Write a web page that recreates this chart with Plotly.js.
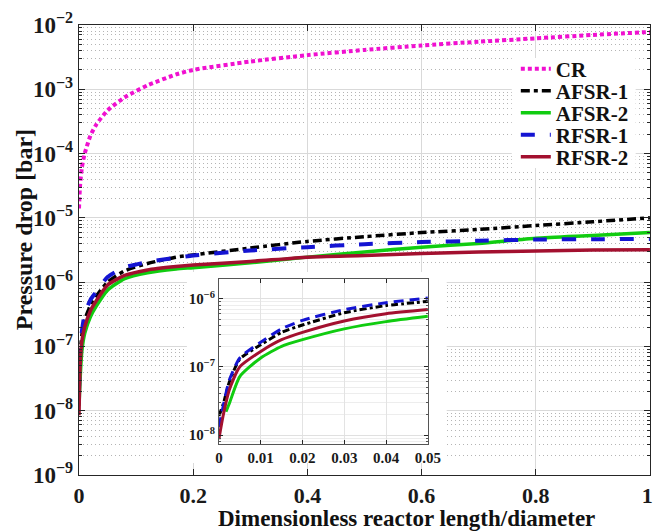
<!DOCTYPE html>
<html>
<head>
<meta charset="utf-8">
<script src="https://cdn.plot.ly/plotly-3.0.1.min.js"></script>
<style>html,body{margin:0;padding:0;background:#fff;}#chart{width:654px;height:531px;}</style>
</head>
<body>
<div id="chart"></div>
<script>
// ---- data ----
var seriesNames = ['CR', 'AFSR-1', 'AFSR-2', 'RFSR-1', 'RFSR-2'];

var xMain = [0, 0.001, 0.002, 0.005, 0.01, 0.02, 0.03, 0.05, 0.08, 0.12, 0.17, 0.2, 0.3, 0.4, 0.5, 0.6, 0.7, 0.8, 0.9, 1.0];
var crMain    = [1.4e-5, 2.3e-5, 3.3e-5, 6.0e-5, 1.0e-4, 1.9e-4, 2.8e-4, 4.7e-4, 7.5e-4, 1.15e-3, 1.7e-3, 2.0e-3, 2.7e-3, 3.4e-3, 4.1e-3, 4.8e-3, 5.5e-3, 6.2e-3, 7.0e-3, 7.8e-3];
var afsr1Main = [1.5e-8, 3.5e-8, 7.0e-8, 1.5e-7, 2.6e-7, 4.3e-7, 6.0e-7, 1.0e-6, 1.5e-6, 1.95e-6, 2.45e-6, 2.65e-6, 3.4e-6, 4.3e-6, 5.1e-6, 5.9e-6, 6.6e-6, 7.6e-6, 8.7e-6, 1.0e-5];
var afsr2Main = [1.2e-8, 2.0e-8, 3.2e-8, 8.5e-8, 1.6e-7, 2.9e-7, 4.2e-7, 7.5e-7, 1.13e-6, 1.4e-6, 1.6e-6, 1.68e-6, 2.0e-6, 2.45e-6, 2.95e-6, 3.5e-6, 4.0e-6, 4.8e-6, 5.3e-6, 5.9e-6];
var rfsr1Main = [2.0e-8, 4.5e-8, 8.0e-8, 1.7e-7, 3.2e-7, 5.3e-7, 7.0e-7, 1.2e-6, 1.7e-6, 2.05e-6, 2.4e-6, 2.6e-6, 3.1e-6, 3.5e-6, 3.9e-6, 4.2e-6, 4.4e-6, 4.6e-6, 4.65e-6, 4.7e-6];
var rfsr2Main = [8.5e-9, 2.5e-8, 5.0e-8, 1.2e-7, 2.0e-7, 3.6e-7, 5.1e-7, 9.0e-7, 1.27e-6, 1.55e-6, 1.75e-6, 1.85e-6, 2.1e-6, 2.45e-6, 2.6e-6, 2.8e-6, 2.95e-6, 3.05e-6, 3.15e-6, 3.2e-6];

var xInset = [0, 0.001, 0.0025, 0.005, 0.01, 0.015, 0.02, 0.03, 0.04, 0.05];
var afsr1Inset = [1.9e-8, 2.8e-8, 6.0e-8, 1.3e-7, 2.1e-7, 3.2e-7, 4.1e-7, 6.2e-7, 7.9e-7, 9.1e-7];
var rfsr1Inset = [1.3e-8, 2.6e-8, 6.4e-8, 1.35e-7, 2.3e-7, 3.6e-7, 4.8e-7, 6.9e-7, 8.7e-7, 1.02e-6];
var rfsr2Inset = [8.7e-9, 1.9e-8, 4.6e-8, 1.0e-7, 1.68e-7, 2.5e-7, 3.2e-7, 4.7e-7, 6.0e-7, 6.9e-7];
var xInsetGreen = [0.0017, 0.0025, 0.005, 0.01, 0.015, 0.02, 0.03, 0.04, 0.05];
var afsr2Inset = [2.2e-8, 2.9e-8, 7.2e-8, 1.35e-7, 2.0e-7, 2.5e-7, 3.6e-7, 4.6e-7, 5.5e-7];

var xTickVals = [0, 0.2, 0.4, 0.6, 0.8, 1];
var xTickText = ['0', '0.2', '0.4', '0.6', '0.8', '1&nbsp;'];
var yExponents = [-9, -8, -7, -6, -5, -4, -3, -2];
var xInsetTickVals = [0, 0.01, 0.02, 0.03, 0.04, 0.05];
var xInsetTickText = ['0', '0.01', '0.02', '0.03', '0.04', '0.05'];
var yInsetExponents = [-8, -7, -6];

// ---- styles ----
var colors = ['#f010d0', '#000000', '#10cc10', '#1414d2', '#a3102f'];
var dashes = ['4px,3px', '9px,4px,4px,4px', 'solid', '14px,15px', 'solid'];
var widths = [4, 3.5, 3.5, 4, 3.5];
var FONT = 'Liberation Serif, Times New Roman, serif';

function pow10(e) { return Math.pow(10, e); }
function powLabel(e) { return '<b>10<sup>\u2212' + Math.abs(e) + '</sup></b>'; }
function minorVals(lo, hi) {
  var v = [];
  for (var k = lo; k < hi; k++) for (var m = 2; m <= 9; m++) v.push(m * Math.pow(10, k));
  return v;
}

var mainY = [crMain, afsr1Main, afsr2Main, rfsr1Main, rfsr2Main];
var traces = [];
var legendIds = ['legend', 'legend2', 'legend3', 'legend4', 'legend5'];
for (var i = 0; i < 5; i++) {
  traces.push({
    x: xMain, y: mainY[i], name: seriesNames[i], type: 'scatter', mode: 'lines',
    xaxis: 'x', yaxis: 'y', legend: legendIds[i],
    line: {color: colors[i], width: widths[i], dash: dashes[i], shape: 'spline', smoothing: 0.6}
  });
}
var insetX = [null, xInset, xInsetGreen, xInset, xInset];
var insetY = [null, afsr1Inset, afsr2Inset, rfsr1Inset, rfsr2Inset];
var insetDash = [null, '7px,3px,3px,3px', 'solid', '10px,6px', 'solid'];
for (var j = 1; j < 5; j++) {
  traces.push({
    x: insetX[j], y: insetY[j], name: seriesNames[j], type: 'scatter', mode: 'lines',
    xaxis: 'x2', yaxis: 'y2', showlegend: false,
    line: {color: colors[j], width: 3, dash: insetDash[j], shape: 'spline', smoothing: 0.6}
  });
}

var tickFont = {family: FONT, size: 22, color: '#1a1a1a', weight: 'bold'};
var yTickFont = {family: FONT, size: 23, color: '#1a1a1a', weight: 'bold'};
var insetTickFont = {family: FONT, size: 15, color: '#1a1a1a', weight: 'bold'};
var axisLine = '#262626';

function legendBox(yc) {
  return {x: 0.765, xanchor: 'left', y: yc, yanchor: 'middle', bgcolor: 'rgba(0,0,0,0)',
          borderwidth: 0, font: {family: FONT, size: 21, color: '#111', weight: 'bold'}};
}

var layout = {
  width: 654, height: 531,
  margin: {l: 79, r: 4, t: 25, b: 56},
  paper_bgcolor: '#ffffff', plot_bgcolor: '#ffffff',
  showlegend: true,
  xaxis: {
    domain: [0, 1], range: [0, 1.0001], tickmode: 'array', tickvals: xTickVals,
    ticktext: xTickText.map(function (t) { return '<b>' + t + '</b>'; }),
    ticks: 'inside', ticklen: 6, tickcolor: axisLine, tickwidth: 1, ticklabeloverflow: 'allow',
    showline: true, linecolor: axisLine, linewidth: 1.3, mirror: 'ticks',
    showgrid: true, gridcolor: '#d9d9d9', gridwidth: 1, zeroline: false,
    tickfont: tickFont
  },
  yaxis: {
    type: 'log', domain: [0, 1], range: [-9, -2], tickmode: 'array',
    tickvals: yExponents.map(pow10), ticktext: yExponents.map(powLabel),
    ticks: 'inside', ticklen: 6, tickcolor: axisLine, ticklabeloverflow: 'allow',
    showline: true, linecolor: axisLine, linewidth: 1.3, mirror: 'ticks',
    showgrid: true, gridcolor: '#d9d9d9', gridwidth: 1, zeroline: false,
    tickfont: yTickFont,
    minor: {tickmode: 'array', tickvals: minorVals(-9, -2), ticks: 'inside', ticklen: 3,
            tickcolor: axisLine, showgrid: true, gridcolor: '#b4b4b4', griddash: '1px,3px', gridwidth: 1}
  },
  xaxis2: {
    domain: [0.245, 0.611], anchor: 'y2', range: [0, 0.05], tickmode: 'array',
    tickvals: xInsetTickVals, ticktext: xInsetTickText.map(function (t) { return '<b>' + t + '</b>'; }),
    ticks: 'inside', ticklen: 4, tickcolor: axisLine, ticklabeloverflow: 'allow',
    showline: true, linecolor: '#555', linewidth: 1, mirror: 'ticks',
    showgrid: true, gridcolor: '#e3e3e3', zeroline: false, tickfont: insetTickFont
  },
  yaxis2: {
    type: 'log', domain: [0.069, 0.436], anchor: 'x2', range: [-8.13, -5.71], tickmode: 'array',
    tickvals: yInsetExponents.map(pow10), ticktext: yInsetExponents.map(powLabel),
    ticks: 'inside', ticklen: 4, tickcolor: axisLine, ticklabeloverflow: 'allow',
    showline: true, linecolor: '#555', linewidth: 1, mirror: 'ticks',
    showgrid: true, gridcolor: '#e0e0e0', zeroline: false, tickfont: insetTickFont,
    minor: {tickmode: 'array', tickvals: minorVals(-9, -5), ticks: 'inside', ticklen: 2,
            tickcolor: '#555', showgrid: true, gridcolor: '#ededed', gridwidth: 1}
  },
  legend: legendBox(0.9022),
  legend2: legendBox(0.8533),
  legend3: legendBox(0.8044),
  legend4: legendBox(0.7556),
  legend5: legendBox(0.7067),
  shapes: [
    // white backing behind the inset (covers the main grid)
    {type: 'rect', xref: 'x', yref: 'y', x0: 0.189, x1: 0.644, y0: 1.54e-9, y1: 1.44e-6,
     fillcolor: '#ffffff', line: {width: 0}, layer: 'between'},
    // white backing behind the legend
    {type: 'rect', xref: 'x', yref: 'y', x0: 0.758, x1: 0.975, y0: 5.97e-5, y1: 3.07e-3,
     fillcolor: '#ffffff', line: {width: 0}, layer: 'between'}
  ],
  annotations: [
    {text: '<b>Dimensionless reactor length/diameter</b>', xref: 'paper', yref: 'paper',
     x: 0.574, y: -0.096, xanchor: 'center', yanchor: 'middle', showarrow: false,
     font: {family: FONT, size: 23, color: '#111'}},
    {text: '<b>Pressure drop [bar]</b>', xref: 'paper', yref: 'paper', textangle: -90,
     x: -0.0963, y: 0.544, xanchor: 'center', yanchor: 'middle', showarrow: false,
     font: {family: FONT, size: 24, color: '#111'}}
  ]
};

Plotly.newPlot('chart', traces, layout, {displayModeBar: false, staticPlot: true});
</script>
</body>
</html>
